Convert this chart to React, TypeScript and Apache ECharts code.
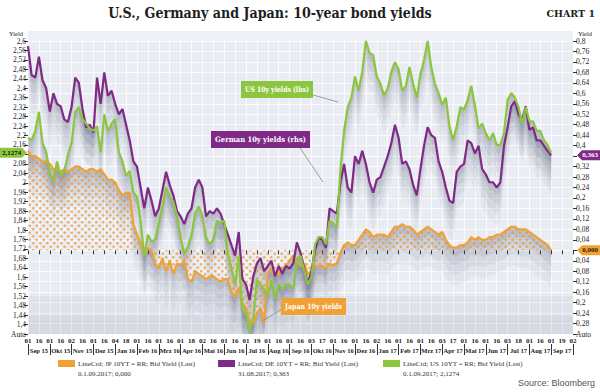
import React, { useEffect, useRef } from 'react';
import * as echarts from 'echarts';

// Month labels (second row of the time axis)
const MONTHS = ['Sep 15', 'Okt 15', 'Nov 15', 'Dez 15', 'Jan 16', 'Feb 16', 'Mrz 16', 'Apr 16', 'Mai 16', 'Jun 16', 'Jul 16', 'Aug 16', 'Sep 16', 'Okt 16', 'Nov 16', 'Dez 16', 'Jan 17', 'Feb 17', 'Mrz 17', 'Apr 17', 'Mai 17', 'Jun 17', 'Jul 17', 'Aug 17', 'Sep 17'];

// Day labels (first row), two per month plus the final one
const DAY_LABELS = ['01', '16', '01', '16', '02', '16', '01', '16', '04', '18', '01', '16', '01', '16', '01', '18', '02', '16', '01', '16', '01', '19', '01', '16', '01', '16', '03', '17', '01', '16', '01', '16', '02', '16', '01', '16', '01', '16', '03', '17', '01', '16', '01', '16', '03', '18', '01', '16', '01', '19', '02'];

// 6 observations per month (approx. days 1, 6, 11, 16, 21, 26)
const US_10Y = [
  2.19, 2.18, 2.22, 2.30, 2.17, 2.13, // Sep 15
  2.04, 2.01, 2.09, 2.03, 2.05, 2.12, // Okt 15
  2.17, 2.30, 2.32, 2.27, 2.25, 2.23, // Nov 15
  2.22, 2.24, 2.13, 2.29, 2.22, 2.25, // Dez 15
  2.27, 2.13, 2.09, 2.03, 2.05, 1.96, // Jan 16
  1.94, 1.84, 1.69, 1.78, 1.75, 1.76, // Feb 16
  1.83, 1.90, 1.98, 1.94, 1.92, 1.86, // Mrz 16
  1.77, 1.70, 1.73, 1.78, 1.87, 1.90, // Apr 16
  1.86, 1.77, 1.74, 1.76, 1.84, 1.83, // Mai 16
  1.84, 1.70, 1.64, 1.57, 1.69, 1.46, // Jun 16
  1.45, 1.37, 1.43, 1.59, 1.57, 1.55, // Jul 16
  1.52, 1.59, 1.51, 1.57, 1.55, 1.57, // Aug 16
  1.57, 1.55, 1.68, 1.69, 1.63, 1.57, // Sep 16
  1.60, 1.74, 1.77, 1.77, 1.74, 1.84, // Okt 16
  1.83, 1.81, 2.06, 2.22, 2.32, 2.36, // Nov 16
  2.45, 2.39, 2.47, 2.60, 2.55, 2.54, // Dez 16
  2.45, 2.42, 2.37, 2.40, 2.47, 2.51, // Jan 17
  2.48, 2.39, 2.41, 2.49, 2.42, 2.36, // Feb 17
  2.46, 2.52, 2.60, 2.49, 2.42, 2.38, // Mrz 17
  2.33, 2.36, 2.24, 2.18, 2.24, 2.32, // Apr 17
  2.31, 2.35, 2.41, 2.33, 2.23, 2.25, // Mai 17
  2.21, 2.18, 2.21, 2.16, 2.16, 2.21, // Jun 17
  2.35, 2.38, 2.36, 2.32, 2.25, 2.32, // Jul 17
  2.26, 2.26, 2.22, 2.22, 2.18, 2.16, // Aug 17
  2.1274, // Sep 17
];

const DE_10Y = [
  0.78, 0.67, 0.66, 0.74, 0.65, 0.62,
  0.53, 0.60, 0.56, 0.55, 0.50, 0.49,
  0.55, 0.66, 0.64, 0.54, 0.47, 0.48,
  0.45, 0.66, 0.56, 0.68, 0.59, 0.61,
  0.56, 0.52, 0.54, 0.48, 0.42, 0.34,
  0.32, 0.24, 0.16, 0.24, 0.19, 0.13,
  0.16, 0.23, 0.30, 0.25, 0.21, 0.15,
  0.13, 0.10, 0.14, 0.16, 0.24, 0.27,
  0.24, 0.13, 0.15, 0.14, 0.16, 0.14,
  0.10, 0.06, 0.02, -0.02, 0.07, -0.11,
  -0.13, -0.19, -0.10, -0.05, -0.03, -0.08,
  -0.06, -0.04, -0.10, -0.06, -0.09, -0.06,
  -0.07, -0.05, 0.03, -0.01, -0.07, -0.13,
  -0.08, 0.00, 0.05, 0.04, 0.01, 0.16,
  0.15, 0.14, 0.26, 0.33, 0.24, 0.22,
  0.36, 0.33, 0.38, 0.33, 0.26, 0.22,
  0.27, 0.28, 0.32, 0.36, 0.41, 0.48,
  0.43, 0.33, 0.34, 0.31, 0.25, 0.21,
  0.31, 0.40, 0.47, 0.44, 0.43, 0.34,
  0.30, 0.24, 0.19, 0.18, 0.30, 0.32,
  0.33, 0.42, 0.41, 0.37, 0.40, 0.31,
  0.29, 0.26, 0.26, 0.24, 0.26, 0.40,
  0.47, 0.55, 0.57, 0.52, 0.50, 0.55,
  0.46, 0.47, 0.42, 0.42, 0.40, 0.38,
  0.363,
];

const JP_10Y = [
  0.38, 0.36, 0.36, 0.35, 0.34, 0.34,
  0.33, 0.31, 0.31, 0.30, 0.31, 0.30,
  0.31, 0.32, 0.32, 0.31, 0.30, 0.31,
  0.31, 0.30, 0.31, 0.29, 0.27, 0.27,
  0.26, 0.23, 0.21, 0.22, 0.22, 0.10,
  0.06, 0.03, -0.02, 0.01, 0.00, -0.05,
  -0.07, -0.03, -0.08, -0.04, -0.09, -0.05,
  -0.06, -0.04, -0.11, -0.12, -0.08, -0.09,
  -0.10, -0.11, -0.10, -0.10, -0.11, -0.12,
  -0.11, -0.11, -0.16, -0.18, -0.14, -0.20,
  -0.22, -0.27, -0.28, -0.24, -0.22, -0.28,
  -0.09, -0.07, -0.10, -0.09, -0.07, -0.06,
  -0.04, -0.02, -0.04, -0.06, -0.05, -0.09,
  -0.08, -0.06, -0.06, -0.06, -0.07, -0.05,
  -0.06, -0.05, -0.01, 0.02, 0.03, 0.02,
  0.02, 0.04, 0.06, 0.08, 0.07, 0.05,
  0.06, 0.06, 0.06, 0.05, 0.07, 0.09,
  0.09, 0.10, 0.09, 0.09, 0.08, 0.06,
  0.07, 0.08, 0.09, 0.08, 0.07, 0.06,
  0.07, 0.04, 0.02, 0.01, 0.01, 0.02,
  0.02, 0.03, 0.05, 0.04, 0.05, 0.04,
  0.04, 0.05, 0.05, 0.06, 0.06, 0.07,
  0.08, 0.09, 0.09, 0.08, 0.08, 0.08,
  0.07, 0.06, 0.05, 0.04, 0.03, 0.02,
  0.000,
];

const US_LAST = 2.1274;
const DE_LAST = 0.363;
const JP_LAST = 0.0;

const PER_MONTH = 6;
const CATEGORIES: string[] = [];
for (let m = 0; m <= MONTHS.length; m++) {
  for (let k = 0; k < PER_MONTH; k++) {
    if (m === MONTHS.length && k > 0) break;
    CATEGORIES.push(m + '-' + k);
  }
}

const C_US = '#8cc63f';
const C_DE = '#7e2a86';
const C_JP = '#f0a136';
const FONT_SERIF = '"Liberation Serif", serif';

const fmt = (v: number) => String(Math.round(Math.abs(v) * 10000) / 10000).replace('.', ',');

export default function App() {
  const ref = useRef<HTMLDivElement>(null);
  useEffect(() => {
    const chart = echarts.init(ref.current!, null, { renderer: 'svg', width: 600, height: 392 });

    const cv = document.createElement('canvas');
    cv.width = 7;
    cv.height = 7;
    const cx = cv.getContext('2d')!;
    cx.fillStyle = 'rgba(236,150,45,0.8)';
    cx.beginPath();
    cx.arc(1.75, 1.75, 1.35, 0, Math.PI * 2);
    cx.fill();
    cx.beginPath();
    cx.arc(5.25, 5.25, 1.35, 0, Math.PI * 2);
    cx.fill();
    const dotUrl = cv.toDataURL();

    const mctx = document.createElement('canvas').getContext('2d')!;
    const measure = (text: string, font: string) => {
      mctx.font = font;
      return mctx.measureText(text).width;
    };

    const halfMonth = (i: number) => i % 3 === 0;

    chart.setOption({
      animation: false,
      backgroundColor: '#ffffff',
      grid: {
        left: 28,
        right: 27,
        top: 41,
        bottom: 58,
        containLabel: false,
        show: true,
        borderWidth: 0,
        backgroundColor: '#e9ecf2',
      },
      xAxis: [
        {
          type: 'category',
          data: CATEGORIES,
          boundaryGap: false,
          axisLine: { show: false },
          axisTick: { show: true, interval: halfMonth, length: 4, lineStyle: { color: '#333', width: 1 } },
          axisLabel: {
            interval: halfMonth,
            formatter: (_v: string, i: number) => DAY_LABELS[i / 3] ?? '',
            fontFamily: FONT_SERIF,
            fontWeight: 'bold',
            fontSize: 7,
            color: '#222',
            margin: 3,
          },
          splitLine: { show: true, interval: halfMonth, lineStyle: { color: '#ffffff', width: 1, opacity: 0.8 } },
        },
        {
          type: 'category',
          data: MONTHS,
          boundaryGap: true,
          position: 'bottom',
          offset: 10,
          axisLine: { show: false },
          axisTick: { show: true, interval: 0, length: 11, lineStyle: { color: '#333', width: 1 } },
          axisLabel: { interval: 0, fontFamily: FONT_SERIF, fontWeight: 'bold', fontSize: 6.5, color: '#222', margin: 3 },
          splitLine: { show: false },
        },
      ],
      yAxis: [
        {
          type: 'value',
          position: 'left',
          min: 1.36,
          max: 2.6,
          interval: 0.04,
          axisLine: { show: false },
          axisTick: { show: true, length: 4, lineStyle: { color: '#333' } },
          axisLabel: {
            formatter: (v: number) => {
              if (Math.abs(v - 1.36) < 1e-6) return 'Auto';
              if (Math.abs(v - US_LAST) < 0.02) return '';
              return fmt(v);
            },
            fontFamily: FONT_SERIF,
            fontSize: 7.5,
            color: '#222',
            margin: 2,
          },
          splitLine: { show: false },
        },
        {
          type: 'value',
          position: 'right',
          min: -0.32,
          max: 0.8,
          interval: 0.04,
          axisLine: { show: false },
          axisTick: { show: true, length: 4, lineStyle: { color: '#333' } },
          axisLabel: {
            formatter: (v: number) => {
              if (Math.abs(v + 0.32) < 1e-6) return 'Auto';
              if (Math.abs(v - DE_LAST) < 0.02 || Math.abs(v - JP_LAST) < 0.02) return '';
              return fmt(v);
            },
            fontFamily: FONT_SERIF,
            fontSize: 7.5,
            color: '#222',
            margin: 3,
          },
          splitLine: { show: true, lineStyle: { color: '#ffffff', width: 1, opacity: 0.8 } },
        },
      ],
      series: [
        {
          name: 'JP',
          type: 'line',
          xAxisIndex: 0,
          yAxisIndex: 1,
          data: JP_10Y,
          symbol: 'none',
          lineStyle: { color: C_JP, width: 2.2 },
          areaStyle: {
            origin: 0,
            color: { image: dotUrl, repeat: 'repeat', imageWidth: 7, imageHeight: 7 } as any,
            opacity: 0.9,
          },
          z: 5,
        },
        {
          name: 'DE',
          type: 'line',
          xAxisIndex: 0,
          yAxisIndex: 1,
          data: DE_10Y,
          symbol: 'none',
          lineStyle: { color: C_DE, width: 2.2 },
          z: 6,
        },
        {
          name: 'US',
          type: 'line',
          xAxisIndex: 0,
          yAxisIndex: 0,
          data: US_10Y,
          symbol: 'none',
          lineStyle: { color: C_US, width: 2.2 },
          z: 7,
        },
      ],
    });

    // grey soft bands hanging under each line (layered translucent fills),
    // positioned through the chart's own scales
    const bands: any[] = [];
    const addBands = (data: number[], yAxisIndex: number) => {
      const pts = data.map((v, i) => chart.convertToPixel({ xAxisIndex: 0, yAxisIndex } as any, [i, v]) as number[]);
      const layers = [
        { h: 38, a: 0.06 },
        { h: 27, a: 0.08 },
        { h: 17, a: 0.1 },
        { h: 8, a: 0.12 },
      ];
      for (const L of layers) {
        const top = pts.map((p) => [p[0], p[1]]);
        const bottom = pts.map((p) => [p[0], Math.min(p[1] + L.h, 334)]).reverse();
        bands.push({
          type: 'polygon',
          z: 2,
          silent: true,
          shape: { points: top.concat(bottom) },
          style: { fill: 'rgba(80,85,115,' + L.a + ')' },
        });
      }
    };
    addBands(JP_10Y, 1);
    addBands(DE_10Y, 1);
    addBands(US_10Y, 0);

    const yUS = chart.convertToPixel({ yAxisIndex: 0 }, US_LAST) as number;
    const yDE = chart.convertToPixel({ yAxisIndex: 1 }, DE_LAST) as number;
    const yJP = chart.convertToPixel({ yAxisIndex: 1 }, JP_LAST) as number;

    const title = 'U.S., Germany and Japan: 10-year bond yields';
    const titleFont = 'bold 15px "DejaVu Serif"';
    const titleScale = 324 / (measure(title, titleFont) || 324);

    const leftTag = (y: number, color: string, text: string, textColor: string) => ({
      type: 'group',
      children: [
        { type: 'polygon', z: 10, shape: { points: [[0, y - 5], [22, y - 5], [27, y], [22, y + 5], [0, y + 5]] }, style: { fill: color } },
        { type: 'text', z: 11, x: 11.5, y, style: { text, font: 'bold 7px ' + FONT_SERIF, fill: textColor, textAlign: 'center', textVerticalAlign: 'middle' } },
      ],
    });
    const rightTag = (y: number, color: string, text: string, textColor: string) => ({
      type: 'group',
      children: [
        { type: 'polygon', z: 10, shape: { points: [[577, y], [582, y - 5], [600, y - 5], [600, y + 5], [582, y + 5]] }, style: { fill: color } },
        { type: 'text', z: 11, x: 590, y, style: { text, font: 'bold 7px ' + FONT_SERIF, fill: textColor, textAlign: 'center', textVerticalAlign: 'middle' } },
      ],
    });
    const legendItem = (x: number, color: string, l1: string, l2: string) => ({
      type: 'group',
      children: [
        { type: 'rect', shape: { x, y: 360, width: 17, height: 7 }, style: { fill: color } },
        { type: 'text', x: x + 20, y: 364, style: { text: l1, font: '7px ' + FONT_SERIF, fill: '#333', textVerticalAlign: 'middle' } },
        { type: 'text', x: x + 20, y: 374, style: { text: l2, font: '7px ' + FONT_SERIF, fill: '#333', textVerticalAlign: 'middle' } },
      ],
    });
    const calloutFont = 'bold 7.5px "DejaVu Serif"';
    const callout = (x: number, y: number, w: number, color: string, text: string) => {
      const s = Math.min(1, (w - 8) / (measure(text, calloutFont) || w));
      return {
        type: 'group',
        children: [
          { type: 'rect', z: 10, shape: { x, y, width: w, height: 17 }, style: { fill: color } },
          { type: 'text', z: 11, x: x + w / 2, y: y + 8.5, scaleX: s, style: { text, font: calloutFont, fill: '#ffffff', textAlign: 'center', textVerticalAlign: 'middle' } },
        ],
      };
    };

    chart.setOption({
      graphic: [
        // top strip of the plot background above the highest tick
        { type: 'rect', shape: { x: 28, y: 31, width: 545, height: 10 }, style: { fill: '#eef0f5' } },
        // darker lower part of the plot background
        { type: 'rect', z: 1, silent: true, shape: { x: 28, y: 296, width: 545, height: 38 }, style: { fill: 'rgba(110,115,140,0.08)' } },
        { type: 'rect', z: 1, silent: true, shape: { x: 28, y: 316, width: 545, height: 18 }, style: { fill: 'rgba(110,115,140,0.08)' } },
        ...bands,
        {
          type: 'text',
          x: 270,
          y: 13,
          scaleX: titleScale,
          style: { text: title, font: titleFont, fill: '#1e1e1e', textAlign: 'center', textVerticalAlign: 'middle' },
        },
        { type: 'text', x: 595, y: 13, style: { text: 'CHART 1', font: 'bold 9.5px "DejaVu Serif"', fill: '#1e1e1e', textAlign: 'right', textVerticalAlign: 'middle' } },
        { type: 'text', x: 16, y: 33, style: { text: 'Yield', font: '6.5px ' + FONT_SERIF, fill: '#222', textAlign: 'center', textVerticalAlign: 'middle' } },
        { type: 'text', x: 585, y: 33, style: { text: 'Yield', font: '6.5px ' + FONT_SERIF, fill: '#222', textAlign: 'center', textVerticalAlign: 'middle' } },
        // callouts
        { type: 'line', z: 10, shape: { x1: 313, y1: 95, x2: 338, y2: 102 }, style: { stroke: '#8a8a8a', lineWidth: 0.8 } },
        callout(241, 81, 72, C_US, 'US 10y yields (lhs)'),
        { type: 'line', z: 10, shape: { x1: 300, y1: 148, x2: 323, y2: 182 }, style: { stroke: '#8a8a8a', lineWidth: 0.8 } },
        callout(211, 131, 99, C_DE, 'German 10y yields (rhs)'),
        { type: 'line', z: 10, shape: { x1: 282, y1: 309, x2: 262, y2: 321 }, style: { stroke: '#8a8a8a', lineWidth: 0.8 } },
        callout(281, 298, 65, C_JP, 'Japan 10y yields'),
        // last-value tags
        leftTag(yUS, C_US, fmt(US_LAST), '#111'),
        rightTag(yDE, C_DE, fmt(DE_LAST), '#ffffff'),
        rightTag(yJP, C_JP, '0,000', '#3a2200'),
        // legend
        legendItem(58, C_JP, 'LineCrd; JP 10YT = RR; Bid Yield (Last)', '0.1.09.2017; 0,000'),
        legendItem(218, C_DE, 'LineCrd; DE 10YT = RR; Bid Yield (Last)', '31.08.2017; 0,363'),
        legendItem(383, C_US, 'LineCrd; US 10YT = RR; Bid Yield (Last)', '0.1.09.2017; 2,1274'),
        { type: 'text', x: 595, y: 383, style: { text: 'Source: Bloomberg', font: '9px "Liberation Sans", Arial, sans-serif', fill: '#555', textAlign: 'right', textVerticalAlign: 'middle' } },
      ],
    });

    return () => chart.dispose();
  }, []);

  return <div ref={ref} style={{ position: 'fixed', left: 0, top: 0, width: 600, height: 392, background: '#fff' }} />;
}
